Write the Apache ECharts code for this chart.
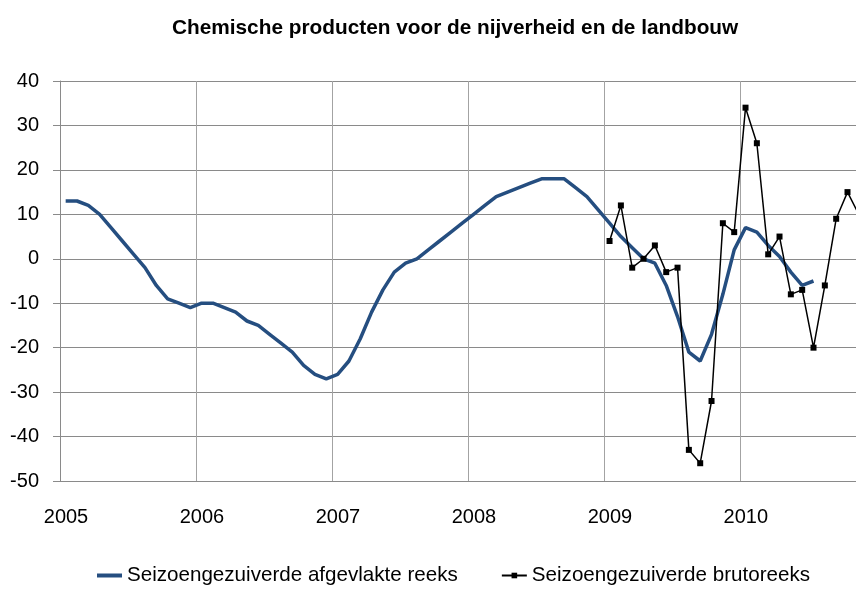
<!DOCTYPE html>
<html>
<head>
<meta charset="utf-8">
<script src="https://cdn.jsdelivr.net/npm/echarts@6/dist/echarts.min.js"></script>
<style>
  html, body { margin: 0; padding: 0; background: #fff; }
  #chart { width: 856px; height: 598px; }
</style>
</head>
<body>
<div id="chart"></div>
<script>
// maandreeksen, index 0 = januari 2005
var yearLabels = ['2005', '2006', '2007', '2008', '2009', '2010']
var yTicks = { min: -50, max: 40, step: 10 }

// seizoengezuiverde afgevlakte reeks, jan 2005 - jul 2010
var smoothed = [
  13, 13, 12, 10, 7, 4, 1, -2, -6, -9, -10, -11,
  -10, -10, -11, -12, -14, -15, -17, -19, -21, -24, -26, -27,
  -26, -23, -18, -12, -7, -3, -1, 0, 2, 4, 6, 8,
  10, 12, 14, 15, 16, 17, 18, 18, 18, 16, 14, 11,
  8, 5, 2.5, 0, -1, -6, -13, -21, -23, -17, -8, 2,
  7, 6, 3, 0.5, -3, -6, -5
]
// seizoengezuiverde brutoreeks, jan 2009 - nov 2010
var rawStart = 48
var raw = [
  4, 12, -2, 0, 3, -3, -2, -43, -46, -32, 8, 6,
  34, 26, 1, 5, -8, -7, -20, -6, 9, 15, 10
]

var font = "'Liberation Sans', Arial, sans-serif"
var gridColor = '#8a8a8a'
var blue = '#254E80'

function toPoints(values, start) {
  // punt in het midden van de maand
  return values.map(function (v, i) { return [start + i + 0.5, v] })
}

var chart = echarts.init(document.getElementById('chart'))
chart.setOption({
  animation: false,
  backgroundColor: '#fff',
  title: {
    text: 'Chemische producten voor de nijverheid en de landbouw',
    left: 167,
    top: 13,
    textStyle: { fontFamily: font, fontSize: 20.8, fontWeight: 'bold', color: '#000' }
  },
  legend: {
    left: 92,
    bottom: 7,
    itemGap: 43,
    itemWidth: 25,
    itemHeight: 7,
    textStyle: { fontFamily: font, fontSize: 20.6, color: '#000' },
    data: [
      { name: 'Seizoengezuiverde afgevlakte reeks', icon: 'path://M0,0L25,0L25,4L0,4Z' },
      'Seizoengezuiverde brutoreeks'
    ]
  },
  grid: { left: 60, right: 0, top: 81, bottom: 117 },
  xAxis: {
    type: 'value',
    min: 0,
    max: 70.25,
    interval: 12,
    axisLine: { show: false },
    axisTick: { show: false },
    splitLine: { show: true, lineStyle: { color: '#a3a3a3', width: 1 } },
    axisLabel: {
      fontFamily: font,
      fontSize: 20,
      color: '#000',
      margin: 26,
      padding: [0, 0, 0, 12],
      showMaxLabel: false,
      formatter: function (v) {
        return v % 12 === 0 ? yearLabels[v / 12] : ''
      }
    }
  },
  yAxis: {
    type: 'value',
    min: yTicks.min,
    max: yTicks.max,
    interval: yTicks.step,
    axisLine: { show: true, lineStyle: { color: gridColor } },
    axisTick: { show: true, length: 7, lineStyle: { color: gridColor } },
    splitLine: { show: true, lineStyle: { color: gridColor, width: 1 } },
    axisLabel: { fontFamily: font, fontSize: 20, color: '#000', margin: 21 }
  },
  series: [
    {
      name: 'Seizoengezuiverde afgevlakte reeks',
      type: 'line',
      data: toPoints(smoothed, 0),
      showSymbol: false,
      symbol: 'none',
      lineStyle: { color: blue, width: 3.5 },
      itemStyle: { color: blue },
      z: 3
    },
    {
      name: 'Seizoengezuiverde brutoreeks',
      type: 'line',
      data: toPoints(raw, rawStart),
      symbol: 'rect',
      symbolSize: 6,
      lineStyle: { color: '#000', width: 1.5 },
      itemStyle: { color: '#000' },
      z: 4
    }
  ]
})
</script>
</body>
</html>
